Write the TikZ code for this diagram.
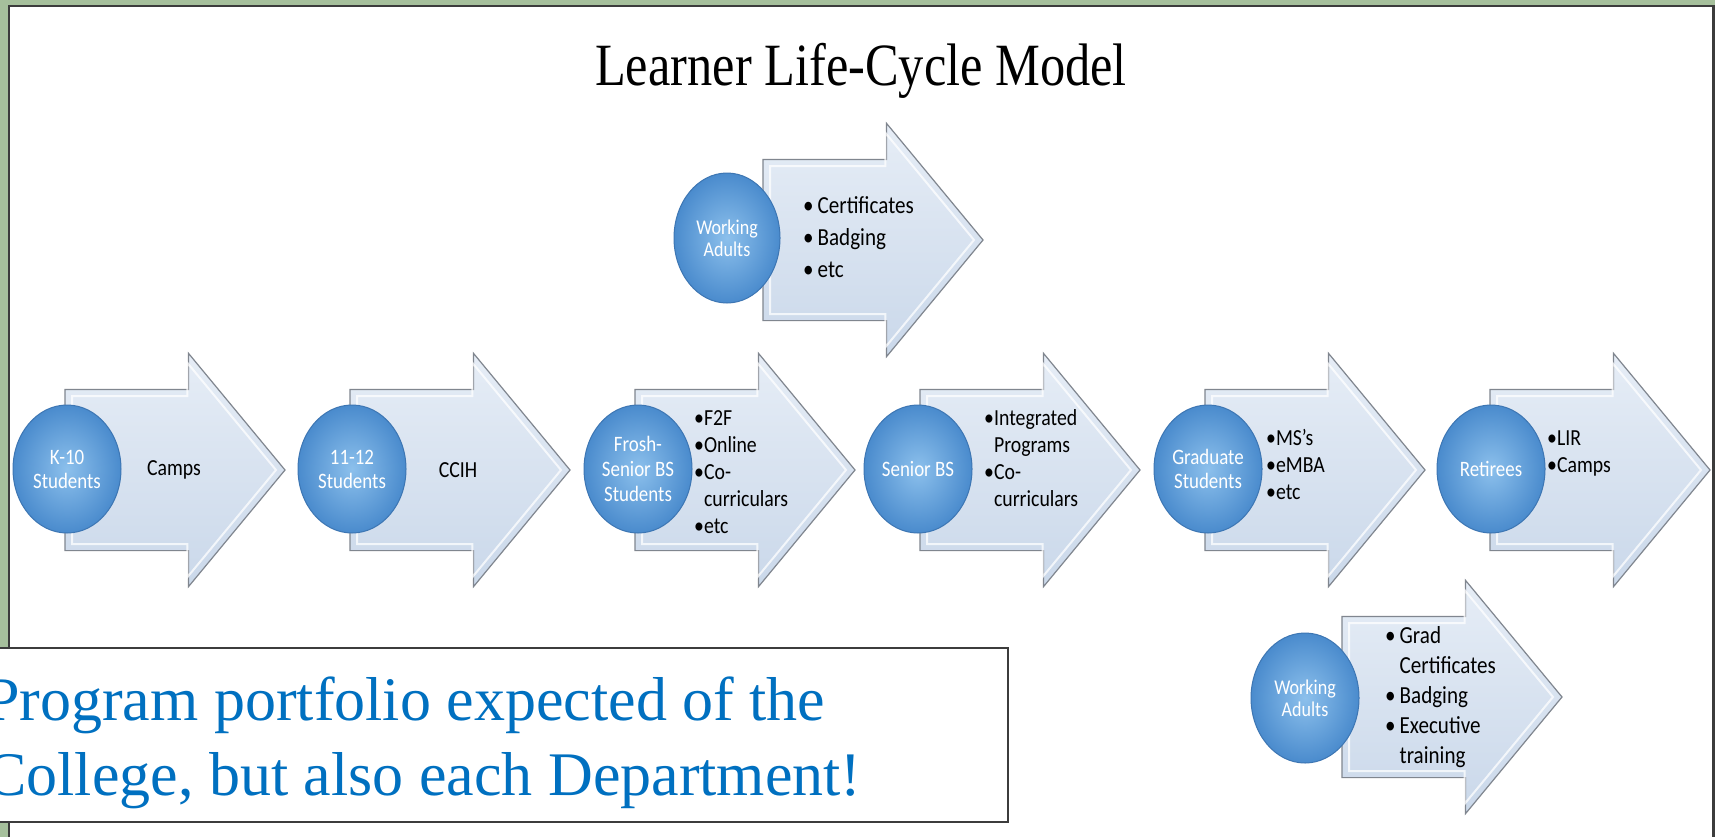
\documentclass[tikz,border=0pt]{standalone}
\usepackage{fontspec}
\usepackage{array}
\usetikzlibrary{shapes.geometric,shapes.arrows}
\newfontfamily\calfont[FakeStretch=0.86]{Carlito}
\newfontfamily\headfont[FakeStretch=0.84]{Liberation Serif}
\newfontfamily\notefont{Liberation Serif}
\definecolor{sagegreen}{HTML}{A6C09C}
\definecolor{sagelight}{HTML}{CAD7C6}
\definecolor{framegray}{HTML}{3C3C3C}
\definecolor{arrowtop}{HTML}{E6EDF6}
\definecolor{arrowbot}{HTML}{CAD8EA}
\definecolor{arrowline}{HTML}{80868F}
\definecolor{ballin}{HTML}{8CC0EC}
\definecolor{ballout}{HTML}{4A8BCD}
\definecolor{balledge}{HTML}{3D76B3}
\definecolor{noteblue}{HTML}{0070C0}

\begin{document}
\begin{tikzpicture}[x=1pt,y=-1pt,
    stagearrow/.style={single arrow, anchor=tail, inner xsep=0pt, inner ysep=80pt,
      outer sep=0pt, single arrow head extend=36pt, single arrow tip angle=100.8,
      minimum height=220pt, top color=arrowtop, bottom color=arrowbot,
      draw=arrowline, line width=1.2pt},
    bevel/.style={single arrow, anchor=tail, inner xsep=0pt, inner ysep=73pt,
      outer sep=0pt, single arrow head extend=33pt, single arrow tip angle=100.8,
      minimum height=204pt, draw=white, draw opacity=0.75, line width=2pt},
    learner/.style={ellipse, minimum width=108pt, minimum height=128pt, inner sep=0pt,
      shading=radial, inner color=ballin, outer color=ballout, draw=balledge,
      line width=1pt, text=white, align=center,
      font=\calfont\fontsize{22}{24}\selectfont},
    adultball/.style={learner, minimum width=106pt, minimum height=130pt,
      font=\calfont\fontsize{21}{22}\selectfont},
    rowlist/.style={anchor=base west, inner sep=0pt,
      font=\calfont\fontsize{23}{27}\selectfont},
    adultlist/.style={anchor=base west, inner sep=0pt,
      font=\calfont\fontsize{24.5}{32}\selectfont},
    offer/.style={font=\calfont\fontsize{23}{27}\selectfont}]
    \useasboundingbox (0,0) rectangle (1715,836);
    \shade[left color=sagegreen, middle color=sagelight, right color=sagegreen]
    (0,0) rectangle (1715,836);
    \draw[fill=white, draw=framegray, line width=2.5pt] (9,6) rectangle (1713.5,900);
    \node[anchor=base, font=\headfont\fontsize{60}{72}\selectfont] (title)
    at (861,85) {Learner Life-Cycle Model};

    % working adults, above the row
    \node[stagearrow] (topadults arrow) at (763,240) {};
    \node[bevel] (topadults bevel) at (770,240) {};
    \node[adultball] (topadults) at (727,238) {Working\\Adults};
    \node[adultlist] (topadults list) at (803,213)
    {\begin{tabular}[t]{@{}l@{\hspace{4pt}}l@{}}
        \textbullet & Certificates\\ \textbullet & Badging\\ \textbullet & etc
      \end{tabular}};

    % the life cycle
    \node[stagearrow] (k10 arrow) at (65,470) {};
    \node[bevel] (k10 bevel) at (72,470) {};
    \node[learner] (k10) at (67,469) {K-10\\Students};
    \node[offer] (camps) at (174,470) {Camps};

    \node[stagearrow] (hs arrow) at (350,470) {};
    \node[bevel] (hs bevel) at (357,470) {};
    \node[learner] (hs) at (352,469) {11-12\\Students};
    \node[offer] (ccih) at (458,470) {CCIH};

    \node[stagearrow] (bs arrow) at (635,470) {};
    \node[bevel] (bs bevel) at (642,470) {};
    \node[learner, font=\calfont\fontsize{22}{25}\selectfont] (bs) at (638,469)
    {Frosh-\\Senior BS\\Students};
    \node[rowlist] (bs list) at (694,425)
    {\begin{tabular}[t]{@{}l@{}l@{}}
        \textbullet & F2F\\ \textbullet & Online\\ \textbullet & Co-\\
        & curriculars\\ \textbullet & etc
      \end{tabular}};

    \node[stagearrow] (senior arrow) at (920,470) {};
    \node[bevel] (senior bevel) at (927,470) {};
    \node[learner] (senior) at (918,469) {Senior BS};
    \node[rowlist] (senior list) at (984,425)
    {\begin{tabular}[t]{@{}l@{}l@{}}
        \textbullet & Integrated\\ & Programs\\ \textbullet & Co-\\ & curriculars
      \end{tabular}};

    \node[stagearrow] (grad arrow) at (1205,470) {};
    \node[bevel] (grad bevel) at (1212,470) {};
    \node[learner] (grad) at (1208,469) {Graduate\\Students};
    \node[rowlist] (grad list) at (1266,445)
    {\begin{tabular}[t]{@{}l@{}l@{}}
        \textbullet & MS’s\\ \textbullet & eMBA\\ \textbullet & etc
      \end{tabular}};

    \node[stagearrow] (retirees arrow) at (1490,470) {};
    \node[bevel] (retirees bevel) at (1497,470) {};
    \node[learner] (retirees) at (1491,469) {Retirees};
    \node[rowlist] (retirees list) at (1547,445)
    {\begin{tabular}[t]{@{}l@{}l@{}}
        \textbullet & LIR\\ \textbullet & Camps
      \end{tabular}};

    % working adults, below the row
    \node[stagearrow] (lowadults arrow) at (1342,697) {};
    \node[bevel] (lowadults bevel) at (1349,697) {};
    \node[adultball, minimum width=108pt] (lowadults) at (1305,698) {Working\\Adults};
    \node[adultlist, font=\calfont\fontsize{24.5}{30}\selectfont] (lowadults list)
    at (1385,643)
    {\begin{tabular}[t]{@{}l@{\hspace{4pt}}l@{}}
        \textbullet & Grad\\ & Certificates\\ \textbullet & Badging\\
        \textbullet & Executive\\ & training
      \end{tabular}};

    % note box
    \draw[fill=white, draw=framegray, line width=2pt] (-5,648) rectangle (1008,822);
    \node[anchor=base west, inner sep=0pt, text=noteblue,
      font=\notefont\fontsize{62}{75}\selectfont] (portfolio) at (-15,720)
    {\begin{tabular}[t]{@{}l@{}}
        Program portfolio expected of the\\ College, but also each Department!
      \end{tabular}};
\end{tikzpicture}
\end{document}
